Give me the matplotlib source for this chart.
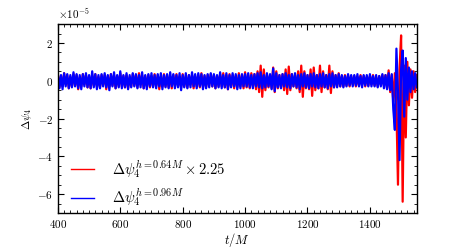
import numpy as np
import matplotlib
matplotlib.use("Agg")
import matplotlib.pyplot as plt
from matplotlib.ticker import MultipleLocator

plt.rcParams['font.family'] = 'serif'
plt.rcParams['font.serif'] = ['cmr10', 'DejaVu Serif']
plt.rcParams['mathtext.fontset'] = 'cm'
plt.rcParams['axes.formatter.use_mathtext'] = True

# time grid (t/M), samples every 5 M
t_start, t_step = 400, 5

# values in units of 1e-5
red_vals = [
    0.3,-0.35,0.25,-0.3,0.4,-0.2,0.3,-0.4,0.2,-0.3,
    0.35,-0.25,0.3,-0.45,0.2,-0.3,0.35,-0.2,0.3,-0.35,
    0.25,-0.4,0.3,-0.25,0.35,-0.3,0.2,-0.35,0.3,-0.2,
    0.3,-0.45,0.25,-0.3,0.35,-0.25,0.3,-0.4,0.25,-0.3,
    0.4,-0.3,0.25,-0.35,0.3,-0.4,0.2,-0.3,0.35,-0.25,
    0.3,-0.35,0.4,-0.2,0.3,-0.4,0.25,-0.3,0.3,-0.35,
    0.25,-0.3,0.35,-0.25,0.3,-0.45,0.2,-0.3,0.35,-0.3,
    0.3,-0.35,0.25,-0.4,0.3,-0.25,0.35,-0.3,0.2,-0.35,
    0.35,-0.3,0.25,-0.35,0.3,-0.2,0.3,-0.4,0.25,-0.3,
    0.3,-0.35,0.4,-0.3,0.25,-0.35,0.3,-0.25,0.35,-0.3,
    0.3,-0.4,0.25,-0.3,0.35,-0.3,0.4,-0.35,0.3,-0.45,
    0.35,-0.3,0.3,-0.4,0.25,-0.35,0.4,-0.3,0.3,-0.4,
    0.45,-0.35,0.3,-0.4,0.4,-0.3,0.35,-0.45,0.5,-0.6,
    0.8,-0.85,0.6,-0.5,0.3,-0.35,0.3,-0.4,0.7,-0.6,
    0.5,-0.4,0.3,-0.35,0.35,-0.5,0.6,-0.7,0.75,-0.5,
    0.35,-0.3,0.3,-0.4,0.5,-0.6,0.8,-0.85,0.5,-0.4,
    0.3,-0.45,0.6,-0.8,0.7,-0.5,0.3,-0.4,0.8,-0.6,
    0.5,-0.35,0.3,-0.45,0.8,-0.65,0.5,-0.35,0.3,-0.3,
    0.4,-0.3,0.25,-0.3,0.3,-0.25,0.3,-0.3,0.25,-0.2,
    0.25,-0.3,0.2,-0.25,0.3,-0.2,0.25,-0.3,0.2,-0.25,
    0.25,-0.2,0.3,-0.25,0.2,-0.3,0.25,-0.2,0.3,-0.25,
    0.3,-0.4,0.55,-0.6,0.3,-1.1,
    0.4,-1.5,-5.5,0.6,2.4,-6.4,0.8,-3.0,1.0,-1.3,0.6,-0.9,0.5,-0.6,0.3,
]

blue_vals = [
    0.35,-0.4,0.3,-0.45,0.4,-0.3,0.35,-0.4,0.3,-0.35,
    0.45,-0.3,0.35,-0.4,0.3,-0.45,0.35,-0.3,0.4,-0.35,
    0.3,-0.4,0.5,-0.35,0.35,-0.45,0.3,-0.4,0.35,-0.3,
    0.4,-0.35,0.3,-0.5,0.35,-0.3,0.45,-0.4,0.3,-0.35,
    0.5,-0.4,0.3,-0.35,0.4,-0.45,0.3,-0.35,0.4,-0.3,
    0.35,-0.4,0.3,-0.35,0.45,-0.4,0.3,-0.45,0.35,-0.3,
    0.4,-0.35,0.3,-0.4,0.35,-0.3,0.4,-0.45,0.3,-0.35,
    0.35,-0.4,0.45,-0.3,0.35,-0.4,0.3,-0.35,0.4,-0.5,
    0.3,-0.35,0.4,-0.4,0.3,-0.35,0.45,-0.3,0.35,-0.4,
    0.4,-0.3,0.35,-0.45,0.3,-0.4,0.35,-0.35,0.4,-0.3,
    0.35,-0.4,0.3,-0.35,0.45,-0.4,0.3,-0.35,0.4,-0.45,
    0.3,-0.35,0.4,-0.3,0.35,-0.45,0.3,-0.4,0.35,-0.3,
    0.35,-0.3,0.4,-0.35,0.3,-0.4,0.35,-0.3,0.4,-0.35,
    0.45,-0.4,0.3,-0.35,0.4,-0.3,0.35,-0.45,0.65,-0.55,
    0.4,-0.35,0.3,-0.4,0.35,-0.3,0.4,-0.35,0.3,-0.4,
    0.35,-0.3,0.4,-0.35,0.3,-0.45,0.35,-0.3,0.4,-0.35,
    0.3,-0.4,0.35,-0.3,0.4,-0.35,0.3,-0.4,0.35,-0.3,
    0.4,-0.35,0.3,-0.4,0.35,-0.3,0.4,-0.35,0.3,-0.35,
    0.35,-0.3,0.3,-0.35,0.25,-0.3,0.35,-0.25,0.3,-0.3,
    0.3,-0.25,0.35,-0.3,0.25,-0.35,0.3,-0.25,0.3,-0.3,
    0.35,-0.3,0.25,-0.3,0.3,-0.35,0.25,-0.3,0.35,-0.4,
    0.3,-0.45,0.4,-0.5,0.35,-1.5,
    -2.6,1.7,-0.6,-4.2,0.6,1.6,-1.9,1.2,-1.0,0.7,-0.6,0.5,-0.45,0.4,-0.35,
]

scale = 1e-5
label_red = r'$\Delta\psi_4^{h=0.64M}\times 2.25$'
label_blue = r'$\Delta\psi_4^{h=0.96M}$'

t_red = t_start + t_step * np.arange(len(red_vals))
t_blue = t_start + t_step * np.arange(len(blue_vals))

fig = plt.figure(figsize=(4.63, 2.48), dpi=100)
ax = fig.add_axes([0.125, 0.141, 0.775, 0.762])

ax.plot(t_red, np.array(red_vals) * scale, color='red', lw=1.6, label=label_red)
ax.plot(t_blue, np.array(blue_vals) * scale, color='blue', lw=1.6, label=label_blue)

ax.set_xlim(400, 1550)
ax.set_ylim(-7e-5, 3e-5)
ax.xaxis.set_major_locator(MultipleLocator(200))
ax.xaxis.set_minor_locator(MultipleLocator(20))
ax.yaxis.set_major_locator(MultipleLocator(2e-5))
ax.yaxis.set_minor_locator(MultipleLocator(0.5e-5))
ax.ticklabel_format(axis='y', style='sci', scilimits=(0, 0))
ax.tick_params(which='both', direction='in', top=True, right=True, labelsize=8)
ax.tick_params(which='major', length=4, width=0.8)
ax.tick_params(which='minor', length=2, width=0.6)
ax.yaxis.get_offset_text().set_fontsize(8)
for s in ax.spines.values():
    s.set_linewidth(1.0)

ax.set_xlabel(r'$t/M$', fontsize=9, labelpad=1)
ax.set_ylabel(r'$\Delta\psi_4$', fontsize=8, labelpad=2)

leg = ax.legend(loc='lower left', frameon=False, fontsize=10.5, handlelength=1.6,
                labelspacing=0.45, handletextpad=1.2, bbox_to_anchor=(0.0, -0.045))
for line in leg.get_lines():
    line.set_linewidth(1.0)

fig.savefig('out.png', dpi=100)
